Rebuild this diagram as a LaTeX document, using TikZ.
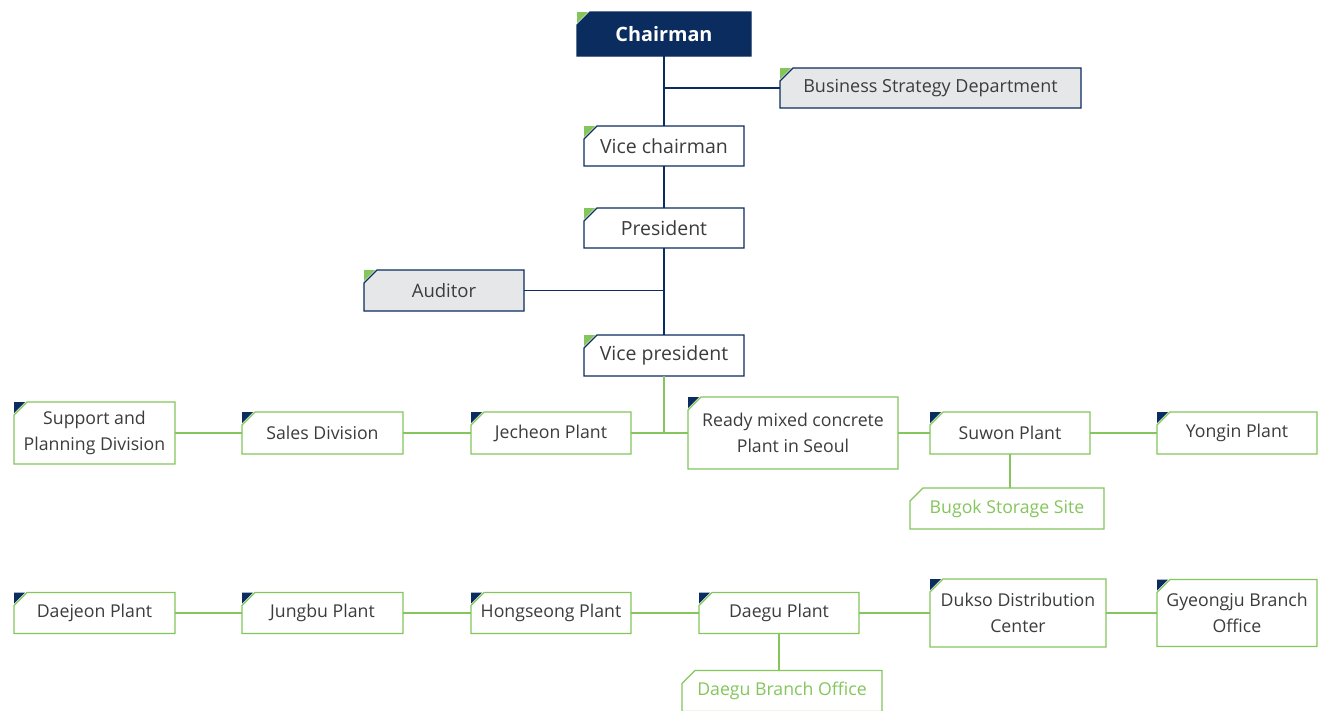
\documentclass[tikz,border=0pt]{standalone}
\usepackage{fontspec}
\setmainfont{Open Sans}
\usetikzlibrary{positioning}
\usetikzlibrary{backgrounds}
\definecolor{navy}{HTML}{0B2C5F}
\definecolor{leaf}{HTML}{84C65C}
\definecolor{paper}{HTML}{E6E7E8}
\definecolor{ink}{HTML}{3C3C3C}
\tikzset{
  box/.style={rectangle, inner sep=0pt, outer sep=0pt, minimum width=160pt, minimum height=41pt,
    align=center, text=ink, font=\fontsize{17.7}{26}\selectfont},
  topbox/.style={box, font=\fontsize{19.5}{26}\selectfont},
  staffbox/.style={box, font=\fontsize{18.5}{26}\selectfont},
  unitbox/.style={box},
  sitebox/.style={box, text=leaf},
  navyline/.style={draw=navy, line width=1.4pt},
  leafline/.style={draw=leaf, line width=1.4pt},
}
\begin{document}
\begin{tikzpicture}
\useasboundingbox (0,0) rectangle (1318pt,-710pt);
% Top of the tree
\node[topbox, text=white, font=\fontsize{19.8}{24}\selectfont\bfseries, minimum width=174pt, minimum height=44pt] (chair) at (664pt,-34pt) {Chairman};
\node[staffbox, font=\fontsize{18}{26}\selectfont, minimum width=301pt, minimum height=40pt] (bsd) at (930.5pt,-88pt) {Business Strategy Department};
\node[topbox, minimum height=40pt, below=70pt of chair] (vchair) {Vice chairman};
\node[topbox, minimum height=40pt, below=42pt of vchair] (pres) {President};
\node[staffbox] (aud) at (444pt,-290.5pt) {Auditor};
\node[topbox, below=87pt of pres] (vpres) {Vice president};

% First row
\node[unitbox, minimum width=161pt, minimum height=62pt] (sup) at (94.5pt,-433pt) {Support and\\Planning Division};
\node[unitbox, minimum width=161pt, minimum height=42pt, right=67pt of sup] (sales) {Sales Division};
\node[unitbox, minimum height=42pt, right=68pt of sales] (jech) {Jecheon Plant};
\node[unitbox, minimum width=210pt, minimum height=72pt, right=57pt of jech] (ready) {Ready mixed concrete\\Plant in Seoul};
\node[unitbox, minimum height=42pt, right=32pt of ready] (suwon) {Suwon Plant};
\node[unitbox, minimum height=42pt, right=67pt of suwon] (yongin) {Yongin Plant};
\node[sitebox, minimum width=194pt, below=34pt of suwon, xshift=-3pt] (bugok) {Bugok Storage Site};

% Second row
\node[unitbox, minimum width=161pt] (daej) at (94.5pt,-613pt) {Daejeon Plant};
\node[unitbox, minimum width=161pt, right=67pt of daej] (jungbu) {Jungbu Plant};
\node[unitbox, right=68pt of jungbu] (hong) {Hongseong Plant};
\node[unitbox, right=68pt of hong] (daegu) {Daegu Plant};
\node[unitbox, minimum width=176pt, minimum height=68pt, right=71pt of daegu] (dukso) {Dukso Distribution\\Center};
\node[unitbox, minimum height=67pt, right=51pt of dukso] (gyeong) {Gyeongju Branch\\Office};
\node[sitebox, minimum width=200pt, below=37pt of daegu, xshift=3pt] (dbo) {Daegu Branch Office};

% Frames with the cut corner
\begin{scope}[on background layer]
  \foreach \n/\f/\d in {chair/navy/navy, bsd/paper/navy, vchair/white/navy, pres/white/navy,
      aud/paper/navy, vpres/white/navy, sup/white/leaf, sales/white/leaf, jech/white/leaf,
      ready/white/leaf, suwon/white/leaf, yongin/white/leaf, bugok/white/leaf,
      daej/white/leaf, jungbu/white/leaf, hong/white/leaf, daegu/white/leaf,
      dukso/white/leaf, gyeong/white/leaf, dbo/white/leaf}
    \filldraw[fill=\f, draw=\d, line width=1.2pt]
      ([yshift=-13pt]\n.north west) -- ([xshift=13pt]\n.north west) -- (\n.north east)
      -- (\n.south east) -- (\n.south west) -- cycle;
\end{scope}

% Corner marks
\foreach \n in {chair,bsd,vchair,pres,aud,vpres}
  \fill[leaf] (\n.north west) -- ++(11pt,0) -- ++(-11pt,-11pt) -- cycle;
\foreach \n in {sup,sales,jech,ready,suwon,yongin,daej,jungbu,hong,daegu,dukso,gyeong}
  \fill[navy] (\n.north west) -- ++(11pt,0) -- ++(-11pt,-11pt) -- cycle;

% Lines
\draw[navyline] (chair) -- (vchair);
\draw[navyline] (chair.south |- bsd.west) -- (bsd.west);
\draw[navyline] (vchair) -- (pres);
\draw[navyline] (pres) -- (vpres);
\draw[navyline] (pres.south |- aud.east) -- (aud.east);
\draw[leafline] (vpres.south) -- (vpres.south |- jech.east);
\draw[leafline] (sup) -- (sales);
\draw[leafline] (sales) -- (jech);
\draw[leafline] (jech) -- (ready);
\draw[leafline] (ready) -- (suwon);
\draw[leafline] (suwon) -- (yongin);
\draw[leafline] (suwon.south) -- (suwon.south |- bugok.north);
\draw[leafline] (daej) -- (jungbu);
\draw[leafline] (jungbu) -- (hong);
\draw[leafline] (hong) -- (daegu);
\draw[leafline] (daegu) -- (dukso);
\draw[leafline] (dukso) -- (gyeong);
\draw[leafline] (daegu.south) -- (daegu.south |- dbo.north);
\end{tikzpicture}
\end{document}
